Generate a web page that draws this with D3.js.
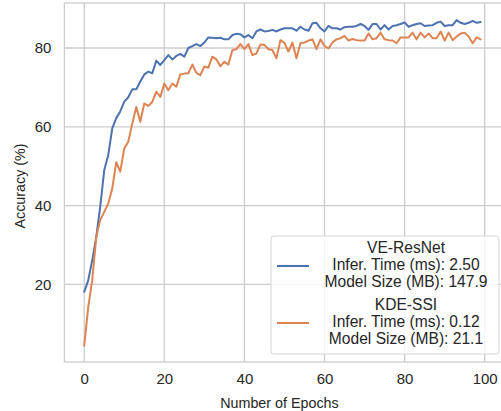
<!DOCTYPE html>
<html>
<head>
<meta charset="utf-8">
<script src="https://d3js.org/d3.v7.min.js"></script>
<style>
  body { margin: 0; background: #fff; }
  text { font-family: "Liberation Sans", Arial, sans-serif; fill: #262626; }
</style>
</head>
<body>
<svg id="chart" width="501" height="411"></svg>
<script>
// epochs 0..99
var epochs = d3.range(0, 100);

var veResNet = [18.1, 21, 26.1, 32, 39.7, 49, 52.8, 59.6, 62.2, 63.9,
  66.4, 67.5, 69.5, 69.5, 71.5, 73.3, 74, 73.6, 76.8, 75.7,
  76.9, 78.2, 77.1, 78, 78.5, 77.8, 80, 80.5, 81, 80.5,
  81.4, 82.7, 82.6, 82.5, 82.6, 82.2, 82.2, 83.3, 83.6, 83.5,
  82.7, 83.3, 82.5, 84.2, 84.7, 84.2, 84.3, 84.6, 84.2, 84.7,
  85, 85, 85, 84.4, 85.4, 84.7, 84.4, 86.3, 86.4, 85,
  84.2, 85.6, 85, 85, 84.7, 85.3, 85.4, 85.4, 85.6, 86.1,
  85.6, 84.6, 86.1, 86.1, 84.7, 85.8, 84.7, 85.6, 85.8, 86.1,
  86.5, 85.4, 85.8, 86.1, 86.3, 85.6, 85.7, 85.8, 86.4, 86.7,
  85.6, 85.8, 85.8, 87.1, 86.4, 86.1, 86.4, 86.9, 86.4, 86.6];

var kdeSSI = [4.4, 14.2, 21, 32, 36.3, 38.4, 40.5, 44.3, 51, 48.6,
  54.5, 56.2, 60.8, 65, 61.3, 65.9, 65.3, 66.3, 68.9, 67.6,
  71, 69.3, 71, 70.2, 73.3, 73.5, 73.6, 75.8, 73.7, 73.1,
  75.3, 75, 77.8, 77.1, 75.4, 76.5, 75.8, 79.5, 79.7, 81,
  79.7, 81, 78.2, 78.6, 80.9, 80.8, 79.7, 79.5, 77.4, 82,
  81.3, 79.1, 81.4, 77.4, 81.2, 81.4, 81.9, 82.2, 79.7, 82.2,
  80.5, 79.9, 81.4, 82.2, 82.5, 83.1, 81.9, 82.3, 82, 81.9,
  81.9, 83.7, 82.2, 82.5, 83.9, 82.2, 82, 81.9, 81.2, 82.7,
  82.7, 82.7, 83.9, 82.2, 83.9, 82.7, 83.7, 82.5, 82.5, 84.2,
  81.9, 83.9, 82, 82.9, 83.7, 83.9, 82.9, 81.2, 82.7, 82.2];

var xTicks = [0, 20, 40, 60, 80, 100];
var yTicks = [20, 40, 60, 80];

var legendLines = [
  ["VE-ResNet", "Infer. Time (ms): 2.50", "Model Size (MB): 147.9"],
  ["KDE-SSI", "Infer. Time (ms): 0.12", "Model Size (MB): 21.1"]
];
var colors = ["#4c72b0", "#dd8452"];

var svg = d3.select("#chart");
var plotL = 64.4, plotR = 500.5, plotT = 3, plotB = 362;
var frameR = 507; // right spine falls just outside the picture

var x = d3.scaleLinear().domain([-4.95, 103.95]).range([plotL, plotR]);
var y = d3.scaleLinear().domain([0.28, 91.43]).range([plotB, plotT]);

// grid
var grid = svg.append("g");
grid.selectAll(".gx").data(xTicks).enter().append("line")
  .attr("x1", d => x(d)).attr("x2", d => x(d))
  .attr("y1", plotT).attr("y2", plotB)
  .attr("stroke", "#cccccc").attr("stroke-width", 1.3);
grid.selectAll(".gy").data(yTicks).enter().append("line")
  .attr("x1", plotL).attr("x2", frameR)
  .attr("y1", d => y(d)).attr("y2", d => y(d))
  .attr("stroke", "#cccccc").attr("stroke-width", 1.3);

// frame
svg.append("rect")
  .attr("x", plotL).attr("y", plotT)
  .attr("width", frameR - plotL).attr("height", plotB - plotT)
  .attr("fill", "none").attr("stroke", "#cccccc").attr("stroke-width", 1.3);

// axes (labels only, seaborn whitegrid has no tick marks)
var xAxis = svg.append("g")
  .attr("transform", "translate(0," + plotB + ")")
  .call(d3.axisBottom(x).tickValues(xTicks).tickSize(0).tickPadding(11));
var yAxis = svg.append("g")
  .attr("transform", "translate(" + plotL + ",0)")
  .call(d3.axisLeft(y).tickValues(yTicks).tickSize(0).tickPadding(13));
[xAxis, yAxis].forEach(function(g) {
  g.select(".domain").remove();
  g.selectAll("text").style("font-size", "15px").attr("fill", "#262626")
    .style("font-family", '"Liberation Sans", Arial, sans-serif');
});

svg.append("text")
  .attr("x", (plotL + plotR) / 2 - 3).attr("y", 408)
  .attr("text-anchor", "middle").style("font-size", "14.3px")
  .text("Number of Epochs");
svg.append("text")
  .attr("transform", "translate(25,186) rotate(-90)")
  .attr("text-anchor", "middle").style("font-size", "14.3px")
  .text("Accuracy (%)");

// lines
var line = d3.line().x((d, i) => x(epochs[i])).y(d => y(d));
[veResNet, kdeSSI].forEach(function(s, k) {
  svg.append("path").datum(s)
    .attr("d", line)
    .attr("fill", "none")
    .attr("stroke", colors[k])
    .attr("stroke-width", 2)
    .attr("stroke-linejoin", "round")
    .attr("stroke-linecap", "round");
});

// legend
var lg = svg.append("g");
lg.append("rect")
  .attr("x", 271).attr("y", 236).attr("width", 228).attr("height", 118)
  .attr("rx", 3).attr("fill", "#fff").attr("fill-opacity", 0.8)
  .attr("stroke", "#d6d6d6").attr("stroke-width", 1);
legendLines.forEach(function(lines, k) {
  var y0 = 253 + k * 57;
  lg.append("line")
    .attr("x1", 277).attr("x2", 309)
    .attr("y1", y0 + 13).attr("y2", y0 + 13)
    .attr("stroke", colors[k]).attr("stroke-width", 2);
  lines.forEach(function(t, j) {
    lg.append("text")
      .attr("x", 406).attr("y", y0 + j * 16.8)
      .attr("text-anchor", "middle").style("font-size", "15.6px")
      .text(t);
  });
});
</script>
</body>
</html>
